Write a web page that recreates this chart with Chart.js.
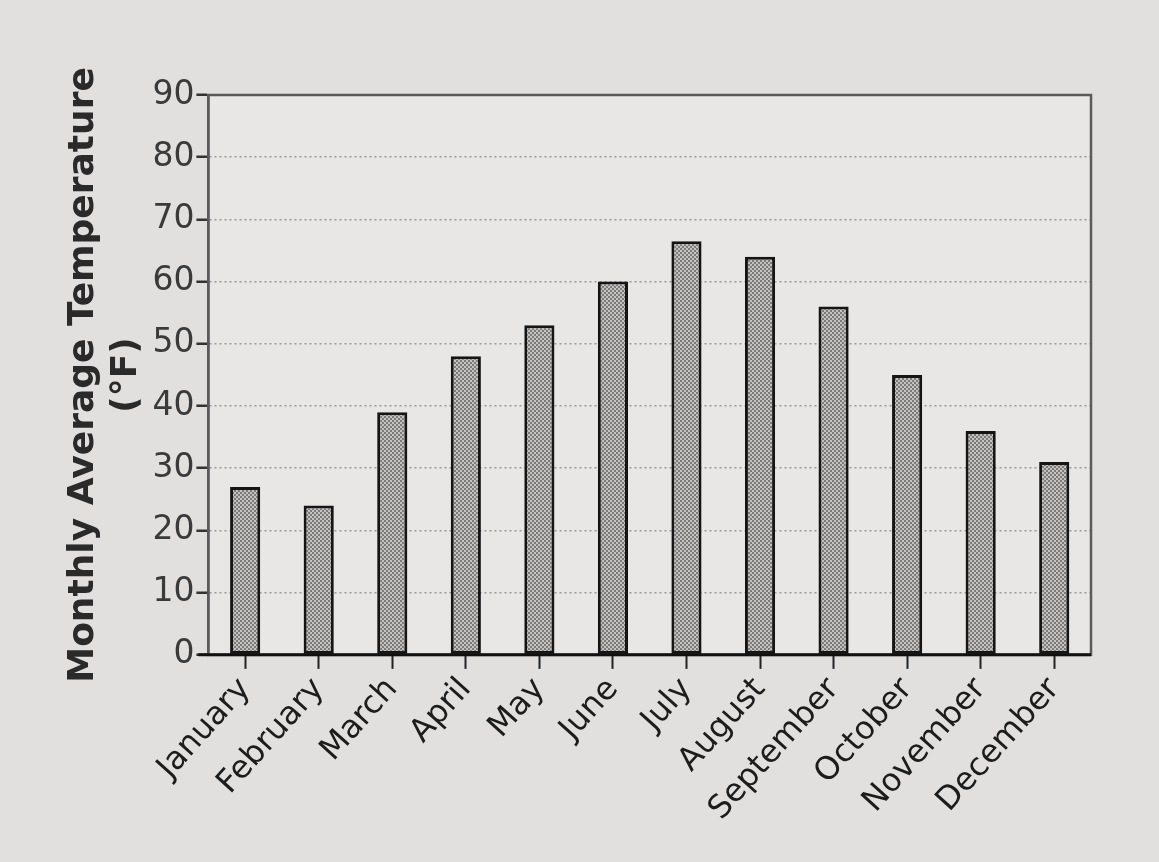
<!DOCTYPE html>
<html>
<head>
<meta charset="utf-8">
<script src="https://cdn.jsdelivr.net/npm/chart.js@4"></script>
<style>
  html, body { margin: 0; padding: 0; background: #e2e0df; }
  #wrap { width: 1159px; height: 862px; }
</style>
</head>
<body>
<div id="wrap"><canvas id="myChart" width="1159" height="862"></canvas></div>
<script>
// data
const months = ["January", "February", "March", "April", "May", "June",
  "July", "August", "September", "October", "November", "December"];
const avgTemp = [27, 24, 39, 48, 53, 60, 66.5, 64, 56, 45, 36, 31];
const yTicks = [0, 10, 20, 30, 40, 50, 60, 70, 80, 90];
const yTitle = ["Monthly Average Temperature", "(°F)"];

// dotted gray fill like the printed bars
function dotPattern() {
  var c = document.createElement("canvas");
  c.width = 4;
  c.height = 4;
  var g = c.getContext("2d");
  g.fillStyle = "#c4c2c1";
  g.fillRect(0, 0, 4, 4);
  g.fillStyle = "#7d7b7a";
  g.fillRect(0, 0, 2, 2);
  g.fillRect(2, 2, 2, 2);
  return g.createPattern(c, "repeat");
}

// page colour + frame round the plot
var paperPlugin = {
  id: "paper",
  beforeDraw: function (chart) {
    var ctx = chart.ctx;
    ctx.save();
    ctx.fillStyle = "#e2e0df";
    ctx.fillRect(0, 0, chart.width, chart.height);
    var a = chart.chartArea;
    ctx.fillStyle = "#e9e7e6";
    ctx.fillRect(a.left, a.top, a.right - a.left, a.bottom - a.top);
    ctx.restore();
  },
  afterDraw: function (chart) {
    var ctx = chart.ctx;
    var a = chart.chartArea;
    ctx.save();
    ctx.strokeStyle = "#5a5a5a";
    ctx.lineWidth = 2.5;
    ctx.strokeRect(a.left, a.top, a.right - a.left, a.bottom - a.top);
    ctx.strokeStyle = "#111";
    ctx.lineWidth = 3;
    ctx.beginPath();
    ctx.moveTo(a.left - 10, a.bottom);
    ctx.lineTo(a.right, a.bottom);
    ctx.stroke();
    ctx.restore();
  }
};

var ctx = document.getElementById("myChart").getContext("2d");
var myChart = new Chart(ctx, {
  type: "bar",
  data: {
    labels: months,
    datasets: [
      {
        data: avgTemp,
        backgroundColor: dotPattern(),
        borderColor: "#151515",
        borderWidth: 3,
        borderSkipped: false,
        barPercentage: 0.41,
        categoryPercentage: 1.0,
      },
    ],
  },
  options: {
    responsive: false,
    animation: false,
    layout: {
      padding: { top: 95, right: 68, left: 62, bottom: 32 },
    },
    plugins: {
      legend: { display: false },
      tooltip: { enabled: false },
    },
    scales: {
      x: {
        grid: {
          offset: false,
          drawOnChartArea: false,
          drawTicks: true,
          tickLength: 14,
          tickColor: "#222",
          tickWidth: 2,
        },
        border: { display: false },
        ticks: {
          color: "#1c1c1c",
          font: { family: "DejaVu Sans", size: 32 },
          maxRotation: 48,
          minRotation: 48,
          padding: 2,
          autoSkip: false,
        },
      },
      y: {
        min: 0,
        max: 90,
        afterBuildTicks: function (axis) {
          axis.ticks = yTicks.map(function (v) { return { value: v }; });
        },
        grid: {
          color: "#9a9897",
          lineWidth: 1.5,
          drawTicks: true,
          tickLength: 12,
          tickColor: "#333",
          tickWidth: 2.5,
          tickBorderDash: [],
        },
        border: { display: true, color: "#5a5a5a", width: 2.5, dash: [2, 3] },
        ticks: {
          color: "#3a3a3a",
          font: { family: "DejaVu Sans", size: 33 },
          padding: 2,
        },
        title: {
          display: true,
          text: yTitle,
          color: "#2a2a2a",
          font: { family: "DejaVu Sans", size: 36, weight: "bold", lineHeight: 1.2 },
          padding: { top: 0, bottom: 2 },
        },
      },
    },
  },
  plugins: [paperPlugin],
});
</script>
</body>
</html>
